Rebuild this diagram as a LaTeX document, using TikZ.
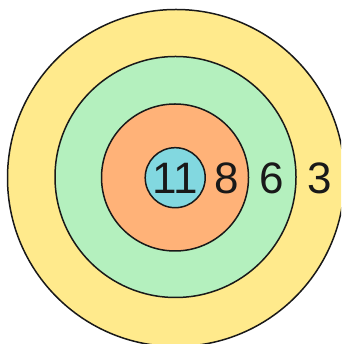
\documentclass[tikz,border=0pt]{standalone}
\usepackage{fontspec}
\setmainfont{Liberation Sans}
\definecolor{ringY}{RGB}{255,234,140}
\definecolor{ringG}{RGB}{180,240,190}
\definecolor{ringO}{RGB}{255,178,120}
\definecolor{ringB}{RGB}{130,216,224}
\definecolor{edge}{RGB}{25,25,25}
\begin{document}
\begin{tikzpicture}[x=1pt,y=1pt,
  ring/.style={circle,draw=edge,line width=1.5pt,inner sep=0pt},
  num/.style={anchor=base,inner sep=0pt,font=\fontsize{44}{44}\selectfont,text=black!90}]
\useasboundingbox (0,0) rectangle (341,344);
\clip (0,0) rectangle (341,344);
\node[ring,fill=ringY,minimum size=337pt] (r3) at (176,166) {};
\node[ring,fill=ringG,minimum size=241pt] (r6) at (175.5,167) {};
\node[ring,fill=ringO,minimum size=147pt] (r8) at (175,166.5) {};
\node[ring,fill=ringB,minimum size=60pt] (r11) at (175.2,166.3) {};
\node[num] (t11) at (175,150) {11};
\node[num] (t8) at (227,150) {8};
\node[num] (t6) at (272,150) {6};
\node[num] (t3) at (320,150) {3};
\end{tikzpicture}
\end{document}
